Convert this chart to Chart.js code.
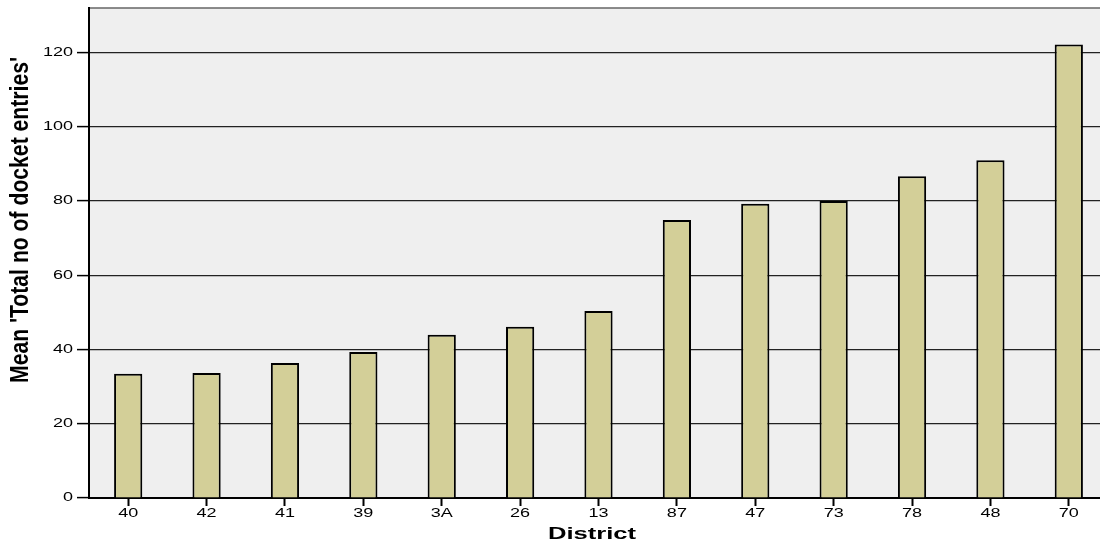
<!DOCTYPE html>
<html>
<head>
<meta charset="utf-8">
<script src="https://cdn.jsdelivr.net/npm/chart.js@4/dist/chart.umd.min.js"></script>
<style>
  html, body { margin: 0; padding: 0; background: #fff; overflow: hidden; }
  .wrap { width: 1110px; height: 544px; position: relative; }
</style>
</head>
<body>
<div class="wrap"><canvas id="chart"></canvas></div>
<script>
const districts = ["40", "42", "41", "39", "3A", "26", "13", "87", "47", "73", "78", "48", "70"];
const meanDocketEntries = [33.5, 33.7, 36.4, 39.3, 44.0, 46.1, 50.4, 74.9, 79.3, 80.0, 86.7, 91.0, 122.2];
const yTicks = [0, 20, 40, 60, 80, 100, 120];
const xTitle = "District";
const yTitle = "Mean 'Total no of docket entries'";

// text in the original looks stretched sideways, so draw it scaled
function drawWide(ctx, text, x, y, font, sx, align) {
    ctx.save();
    ctx.font = font;
    ctx.fillStyle = "#000";
    ctx.textBaseline = "middle";
    ctx.textAlign = align;
    ctx.translate(x, y);
    ctx.scale(sx, 1);
    ctx.fillText(text, 0, 0);
    ctx.restore();
}

const plotFrame = {
    id: "plotFrame",
    beforeDraw: (chart) => {
        const { ctx, chartArea } = chart;
        ctx.save();
        ctx.fillStyle = "#efefef";
        ctx.fillRect(chartArea.left, chartArea.top, chartArea.right - chartArea.left, chartArea.bottom - chartArea.top);
        ctx.strokeStyle = "#666";
        ctx.lineWidth = 1.5;
        ctx.beginPath();
        ctx.moveTo(chartArea.left, chartArea.top);
        ctx.lineTo(chartArea.right, chartArea.top);
        ctx.stroke();
        ctx.restore();
    },
    afterDraw: (chart) => {
        const { ctx } = chart;
        const xs = chart.scales.x;
        const ys = chart.scales.y;
        const tickFont = "12px 'Liberation Sans', Arial, sans-serif";
        yTicks.forEach((v) => {
            drawWide(ctx, String(v), 73, ys.getPixelForValue(v), tickFont, 1.5, "right");
        });
        districts.forEach((d, i) => {
            drawWide(ctx, d, xs.getPixelForTick(i), 514, tickFont, 1.5, "center");
        });
        drawWide(ctx, xTitle, 592, 535, "bold 16px 'Liberation Sans', Arial, sans-serif", 1.6, "center");

        // rotated y title, condensed look comes from the same sideways stretch
        ctx.save();
        ctx.font = "bold 20px 'Liberation Sans', Arial, sans-serif";
        const w = ctx.measureText(yTitle).width;
        ctx.translate(21, 220);
        ctx.rotate(-Math.PI / 2);
        ctx.scale(326 / w, 1.3);
        ctx.fillStyle = "#000";
        ctx.textAlign = "center";
        ctx.textBaseline = "middle";
        ctx.fillText(yTitle, 0, 0);
        ctx.restore();
    },
};

new Chart(document.getElementById("chart"), {
    type: "bar",
    data: {
        labels: districts,
        datasets: [
            {
                data: meanDocketEntries,
                backgroundColor: "#d3cf98",
                borderColor: "#000",
                borderWidth: 2,
                categoryPercentage: 1,
                barPercentage: 0.36,
            },
        ],
    },
    options: {
        animation: false,
        responsive: true,
        maintainAspectRatio: false,
        layout: { padding: { top: 8, right: 2, left: 0, bottom: 0 } },
        plugins: { legend: { display: false }, tooltip: { enabled: false } },
        scales: {
            x: {
                afterFit: (s) => { s.height = 46; },
                ticks: { display: false },
                grid: {
                    offset: false,
                    drawOnChartArea: false,
                    drawTicks: true,
                    tickLength: 8,
                    tickColor: "#000",
                    tickWidth: 2,
                },
                border: { color: "#000", width: 2 },
            },
            y: {
                min: 0,
                max: 132,
                afterFit: (s) => { s.width = 89; },
                afterBuildTicks: (s) => { s.ticks = yTicks.map((v) => ({ value: v })); },
                ticks: { display: false },
                grid: {
                    color: "#222",
                    lineWidth: 1.2,
                    tickLength: 12,
                    tickColor: "#000",
                    tickWidth: 1.5,
                },
                border: { color: "#000", width: 2 },
            },
        },
    },
    plugins: [plotFrame],
});
</script>
</body>
</html>
